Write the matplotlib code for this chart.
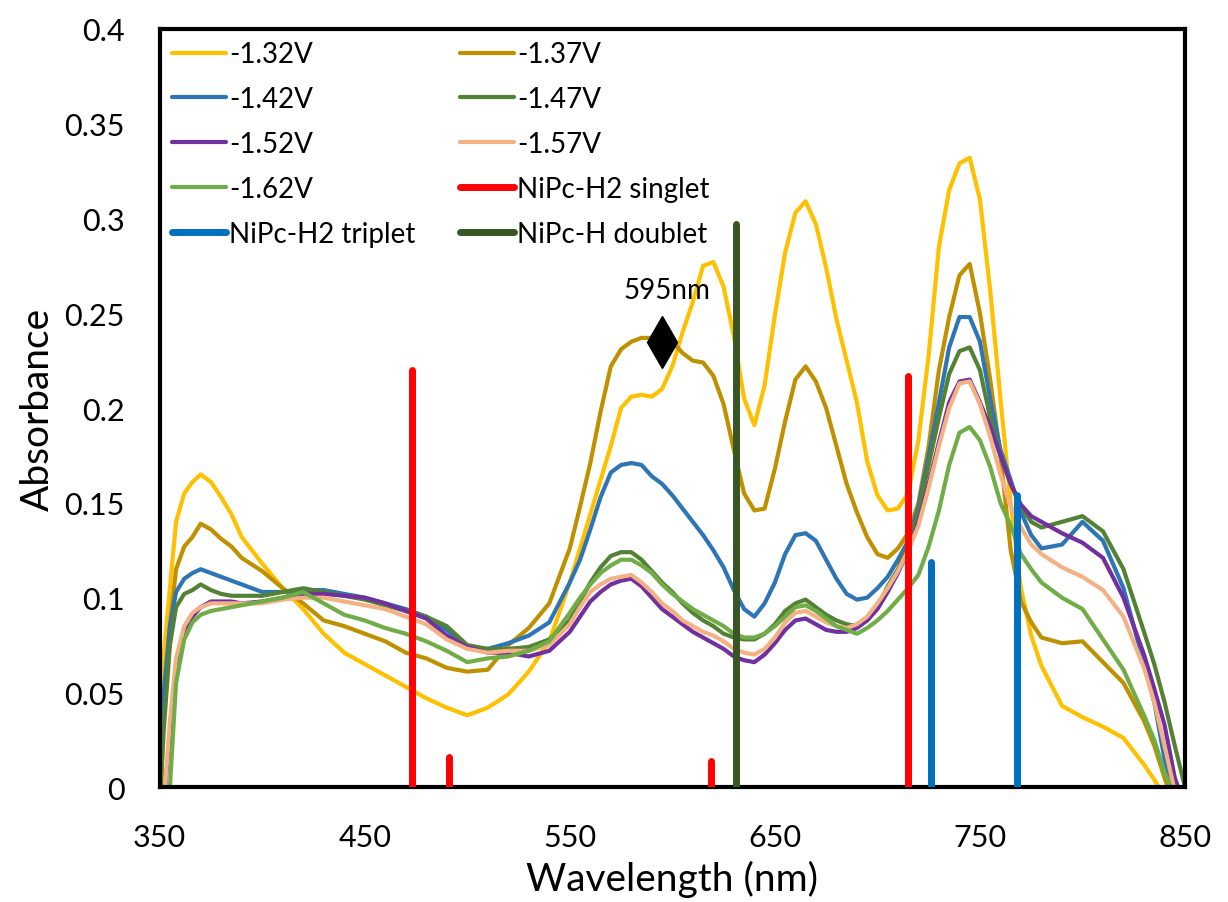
import matplotlib
matplotlib.use('Agg')
from matplotlib import pyplot as plt

plt.rcParams['font.family'] = ['Lato', 'DejaVu Sans']

# wavelength grid (nm) shared by all the spectra
wl = [350, 352, 355, 358, 362, 366, 370, 375, 380, 385, 390, 400, 410, 420, 430, 440,
      450, 460, 470, 480, 490, 500, 510, 520, 530, 540, 550, 555, 560, 565, 570, 575,
      580, 585, 590, 595, 600, 605, 610, 615, 620, 625, 630, 635, 640, 645, 650, 655,
      660, 665, 670, 675, 680, 685, 690, 695, 700, 705, 710, 715, 720, 725, 730, 735,
      740, 745, 750, 755, 760, 765, 770, 775, 780, 790, 800, 810, 820, 830, 835, 840,
      845, 850]

abs_132 = [0.02, 0.07, 0.105, 0.14, 0.155, 0.161, 0.165, 0.161, 0.153, 0.144, 0.132, 0.118,
           0.105, 0.094, 0.081, 0.071, 0.065, 0.059, 0.053, 0.047, 0.042, 0.038, 0.042, 0.049,
           0.061, 0.077, 0.108, 0.126, 0.144, 0.162, 0.180, 0.200, 0.206, 0.207, 0.206, 0.210,
           0.222, 0.240, 0.256, 0.275, 0.277, 0.264, 0.238, 0.205, 0.191, 0.212, 0.249, 0.282,
           0.303, 0.309, 0.297, 0.274, 0.247, 0.225, 0.203, 0.172, 0.154, 0.146, 0.147, 0.155,
           0.183, 0.228, 0.285, 0.315, 0.329, 0.332, 0.310, 0.262, 0.205, 0.150, 0.105, 0.080,
           0.064, 0.043, 0.037, 0.032, 0.026, 0.012, 0.004, -0.005, -0.01, -0.02]

abs_137 = [-0.02, 0.04, 0.085, 0.115, 0.127, 0.132, 0.139, 0.136, 0.131, 0.127, 0.121, 0.114,
           0.105, 0.097, 0.088, 0.085, 0.081, 0.077, 0.071, 0.068, 0.063, 0.061, 0.062, 0.075,
           0.084, 0.097, 0.126, 0.148, 0.171, 0.198, 0.222, 0.231, 0.235, 0.237, 0.237, 0.236,
           0.235, 0.229, 0.225, 0.224, 0.217, 0.202, 0.178, 0.155, 0.146, 0.147, 0.168, 0.193,
           0.215, 0.222, 0.214, 0.200, 0.180, 0.160, 0.145, 0.132, 0.123, 0.121, 0.126, 0.134,
           0.150, 0.180, 0.220, 0.248, 0.270, 0.276, 0.250, 0.215, 0.175, 0.125, 0.098, 0.087,
           0.079, 0.076, 0.077, 0.066, 0.055, 0.035, 0.022, 0.005, -0.01, -0.02]

abs_142 = [0.01, 0.05, 0.085, 0.103, 0.11, 0.113, 0.115, 0.113, 0.111, 0.109, 0.107, 0.103,
           0.103, 0.104, 0.104, 0.102, 0.100, 0.097, 0.094, 0.090, 0.083, 0.074, 0.073, 0.076,
           0.080, 0.087, 0.108, 0.120, 0.136, 0.153, 0.166, 0.170, 0.171, 0.170, 0.164, 0.160,
           0.154, 0.147, 0.140, 0.133, 0.125, 0.116, 0.104, 0.094, 0.090, 0.097, 0.108, 0.123,
           0.133, 0.134, 0.130, 0.120, 0.110, 0.102, 0.099, 0.100, 0.105, 0.111, 0.120, 0.130,
           0.148, 0.175, 0.203, 0.232, 0.248, 0.248, 0.235, 0.205, 0.178, 0.162, 0.145, 0.133,
           0.126, 0.128, 0.140, 0.130, 0.105, 0.065, 0.045, 0.015, -0.01, -0.02]

abs_147 = [-0.01, 0.03, 0.075, 0.095, 0.102, 0.104, 0.107, 0.104, 0.102, 0.101, 0.101, 0.101,
           0.103, 0.105, 0.103, 0.101, 0.099, 0.096, 0.093, 0.090, 0.085, 0.075, 0.073, 0.073,
           0.074, 0.078, 0.088, 0.098, 0.108, 0.116, 0.122, 0.124, 0.124, 0.120, 0.114, 0.108,
           0.103, 0.097, 0.092, 0.088, 0.085, 0.081, 0.079, 0.078, 0.078, 0.081, 0.086, 0.093,
           0.097, 0.099, 0.095, 0.091, 0.088, 0.086, 0.085, 0.088, 0.095, 0.106, 0.115, 0.128,
           0.145, 0.170, 0.195, 0.218, 0.230, 0.232, 0.220, 0.195, 0.175, 0.160, 0.148, 0.140,
           0.137, 0.140, 0.143, 0.135, 0.115, 0.082, 0.065, 0.045, 0.022, 0.0]

abs_152 = [-0.04, -0.01, 0.03, 0.065, 0.083, 0.090, 0.095, 0.098, 0.098, 0.098, 0.097, 0.098,
           0.100, 0.102, 0.102, 0.101, 0.100, 0.097, 0.093, 0.089, 0.080, 0.074, 0.071, 0.071,
           0.069, 0.072, 0.082, 0.090, 0.098, 0.103, 0.107, 0.109, 0.110, 0.106, 0.100, 0.094,
           0.090, 0.086, 0.082, 0.079, 0.076, 0.073, 0.069, 0.067, 0.066, 0.070, 0.076, 0.083,
           0.088, 0.089, 0.086, 0.083, 0.082, 0.082, 0.084, 0.088, 0.094, 0.103, 0.113, 0.125,
           0.140, 0.160, 0.182, 0.203, 0.214, 0.215, 0.203, 0.190, 0.175, 0.160, 0.149, 0.143,
           0.140, 0.134, 0.129, 0.121, 0.100, 0.070, 0.052, 0.033, 0.005, -0.01]

abs_157 = [-0.04, -0.01, 0.035, 0.068, 0.085, 0.092, 0.095, 0.097, 0.097, 0.097, 0.097, 0.097,
           0.099, 0.100, 0.100, 0.098, 0.096, 0.094, 0.090, 0.086, 0.078, 0.073, 0.071, 0.072,
           0.072, 0.075, 0.086, 0.095, 0.103, 0.107, 0.110, 0.111, 0.112, 0.108, 0.103, 0.097,
           0.093, 0.088, 0.085, 0.082, 0.080, 0.077, 0.073, 0.071, 0.070, 0.073, 0.079, 0.087,
           0.092, 0.093, 0.090, 0.087, 0.085, 0.084, 0.086, 0.090, 0.097, 0.105, 0.114, 0.125,
           0.138, 0.158, 0.180, 0.200, 0.213, 0.214, 0.202, 0.185, 0.165, 0.148, 0.137, 0.128,
           0.123, 0.116, 0.111, 0.104, 0.090, 0.063, 0.045, 0.022, -0.002, -0.01]

abs_162 = [-0.08, -0.04, 0.0, 0.055, 0.078, 0.087, 0.091, 0.093, 0.094, 0.095, 0.096, 0.098,
           0.100, 0.103, 0.097, 0.091, 0.088, 0.084, 0.081, 0.077, 0.072, 0.066, 0.068, 0.069,
           0.072, 0.077, 0.092, 0.100, 0.107, 0.113, 0.117, 0.120, 0.120, 0.117, 0.113, 0.107,
           0.102, 0.098, 0.094, 0.091, 0.088, 0.085, 0.081, 0.079, 0.079, 0.081, 0.085, 0.090,
           0.095, 0.096, 0.093, 0.089, 0.085, 0.083, 0.081, 0.084, 0.088, 0.093, 0.099, 0.105,
           0.112, 0.127, 0.146, 0.170, 0.187, 0.190, 0.183, 0.169, 0.150, 0.138, 0.123, 0.115,
           0.108, 0.100, 0.094, 0.078, 0.062, 0.038, 0.025, 0.008, -0.005, -0.02]

curve_labels = ['-1.32V', '-1.37V', '-1.42V', '-1.47V', '-1.52V', '-1.57V', '-1.62V']
curve_colors = ['#FFC000', '#BF9000', '#2E75B6', '#548235', '#7030A0', '#F4B183', '#70AD47']
curves = [abs_132, abs_137, abs_142, abs_147, abs_152, abs_157, abs_162]

# calculated transitions (stick spectra)
singlet_x = [473, 491, 619, 715]
singlet_y = [0.22, 0.016, 0.014, 0.217]
triplet_x = [726, 768]
triplet_y = [0.119, 0.154]
doublet_x = [631]
doublet_y = [0.297]

fig = plt.figure(figsize=(12.28, 9.03), dpi=100)
ax = fig.add_axes([0.130, 0.127, 0.835, 0.840])

handles = {}
for lab, col, ys in zip(curve_labels, curve_colors, curves):
    h, = ax.plot(wl, ys, color=col, lw=3, label=lab, solid_capstyle='round')
    handles[lab] = h

def sticks(xs, ys, col, lab):
    h = None
    for i in range(len(xs)):
        h, = ax.plot([xs[i], xs[i]], [0, ys[i]], color=col, lw=5,
                     solid_capstyle='round', zorder=5, label=lab if i == 0 else None)
    return h

handles['NiPc-H2 singlet'] = sticks(singlet_x, singlet_y, '#FF0000', 'NiPc-H2 singlet')
handles['NiPc-H2 triplet'] = sticks(triplet_x, triplet_y, '#0070C0', 'NiPc-H2 triplet')
handles['NiPc-H doublet'] = sticks(doublet_x, doublet_y, '#375623', 'NiPc-H doublet')

# 595 nm marker
ax.plot([595], [0.235], marker='d', color='black', markersize=26, zorder=6)
ax.text(597.5, 0.262, '595nm', fontsize=20, ha='center', va='center')

ax.set_xlim(350, 850)
ax.set_ylim(0, 0.4)
ax.set_xticks([350, 450, 550, 650, 750, 850])
ax.set_yticks([0, 0.05, 0.1, 0.15, 0.2, 0.25, 0.3, 0.35, 0.4])
ax.set_yticklabels(['0', '0.05', '0.1', '0.15', '0.2', '0.25', '0.3', '0.35', '0.4'])
ax.tick_params(length=0, labelsize=22)
ax.tick_params(axis='x', pad=26)
ax.tick_params(axis='y', pad=25)
for s in ax.spines.values():
    s.set_linewidth(3)
ax.set_xlabel('Wavelength (nm)', fontsize=28, labelpad=6)
ax.set_ylabel('Absorbance', fontsize=28, labelpad=6)

# legend fills by column, so order entries to read row-wise like the original
order = ['-1.32V', '-1.42V', '-1.52V', '-1.62V', 'NiPc-H2 triplet',
         '-1.37V', '-1.47V', '-1.57V', 'NiPc-H2 singlet', 'NiPc-H doublet']
leg = ax.legend([handles[k] for k in order], order, ncol=2, loc='upper left',
                frameon=False, fontsize=20, handlelength=1.95, handletextpad=0.1,
                labelspacing=0.68, columnspacing=1.6, borderaxespad=0.25,
                borderpad=0.2)

fig.savefig('out.png', dpi=100)
